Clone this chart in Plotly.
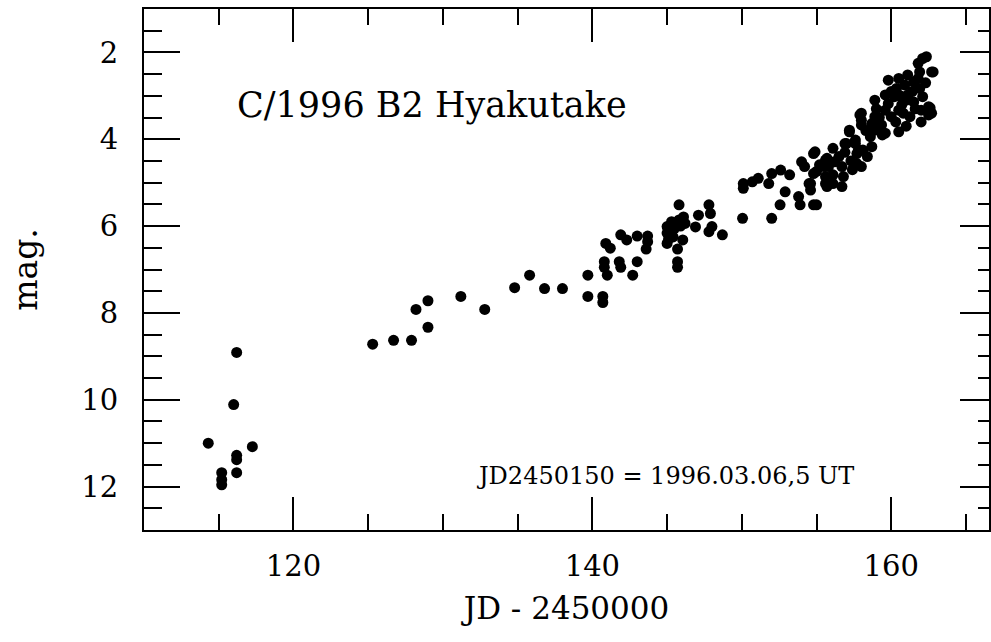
import plotly.graph_objects as go

# Julian date minus 2450000
jd = [
    114.3, 115.2, 115.2, 115.2, 116.2, 116.0, 116.2, 116.2, 116.2, 117.25,
    125.3, 126.7, 127.9, 128.2, 129.0, 129.0, 131.2, 132.8, 134.8, 135.8,
    136.8, 138.0, 139.7, 139.7, 140.7, 140.7, 140.9, 141.2, 140.8, 140.8,
    141.0, 141.8, 141.9, 141.9, 142.3, 143.0, 143.0, 142.7, 143.7, 143.7,
    143.6, 145.0, 145.0, 145.0, 145.3, 145.8, 145.8, 146.1, 146.2, 145.7,
    146.05, 145.7, 145.7, 146.9, 147.1, 147.8, 147.9, 147.8, 148.0, 148.7,
    145.2, 145.5, 145.6, 145.9, 145.4, 145.1,
    150.05, 152.0, 150.1, 150.1, 150.7, 151.1, 151.8, 152.0, 152.6, 153.2,
    152.9, 152.56, 153.8, 153.9, 154.8, 155.0, 154.0, 154.2, 154.6, 154.6,
    154.9, 155.0, 155.2, 155.6, 155.6, 155.7, 155.8, 156.1, 156.2, 156.1,
    156.5, 156.7, 156.7, 156.8, 156.9, 157.2, 157.6, 157.7, 157.7, 157.9,
    158.0, 158.0, 158.1, 154.8, 154.8, 154.5, 155.5, 155.6, 156.1, 155.7,
    157.0, 157.8, 157.6, 158.6, 158.7, 158.9, 157.2, 159.6, 160.5, 159.35,
    158.7, 158.0, 158.0, 158.9, 160.0, 161.25, 162.5, 159.6, 160.5, 162.0,
    158.9, 159.8, 160.7, 161.5, 162.5, 159.6, 160.2, 161.1, 162.1, 159.8,
    161.5, 160.9, 160.35, 161.9, 161.1, 161.9, 162.7, 161.8, 162.1, 162.35,
    160.0, 160.6, 161.0, 161.4, 160.8, 161.6, 159.2, 159.0, 160.3, 161.0,
    161.8, 162.3, 160.5, 162.0, 159.4, 158.3, 158.4, 157.3, 156.9, 157.4,
    162.8, 162.6, 162.7,
]
# total visual magnitude
mag = [
    11.0, 11.68, 11.84, 11.96, 8.91, 10.11, 11.28, 11.38, 11.68, 11.08,
    8.72, 8.63, 8.63, 7.92, 7.72, 8.33, 7.62, 7.92, 7.42, 7.13,
    7.44, 7.44, 7.13, 7.62, 7.62, 7.76, 6.40, 6.51, 6.82, 6.95,
    7.13, 6.82, 6.95, 6.20, 6.32, 6.23, 6.82, 7.13, 6.23, 6.36,
    6.53, 6.01, 6.16, 6.40, 5.90, 5.51, 5.86, 5.79, 5.94, 6.53,
    6.32, 6.82, 6.95, 6.02, 5.75, 5.51, 5.71, 6.13, 6.01, 6.20,
    6.10, 6.05, 5.95, 6.00, 6.25, 6.30,
    5.82, 5.82, 5.02, 5.13, 4.98, 4.90, 5.02, 4.79, 4.71, 4.82,
    5.21, 5.51, 5.32, 5.51, 5.51, 5.51, 4.52, 4.63, 5.17, 5.02,
    4.29, 4.74, 4.59, 4.48, 4.86, 5.09, 4.63, 4.21, 4.52, 4.82,
    4.40, 4.63, 5.09, 4.86, 4.10, 3.83, 4.10, 4.33, 4.56, 3.44,
    3.67, 4.63, 4.25, 4.33, 4.79, 5.02, 4.63, 5.02, 5.02, 4.44,
    4.10, 4.25, 4.02, 3.94, 4.17, 3.79, 3.79, 3.86, 3.83, 3.67,
    3.64, 3.56, 3.40, 3.48, 3.48, 3.48, 3.44, 3.33, 3.33, 3.33,
    3.10, 3.18, 3.21, 3.14, 3.25, 2.98, 3.02, 2.98, 3.02, 2.64,
    2.68, 2.75, 2.83, 2.83, 2.52, 2.45, 2.45, 2.25, 2.14, 2.10,
    2.90, 3.00, 3.10, 2.90, 3.40, 3.30, 3.50, 3.30, 3.60, 3.70,
    2.60, 2.70, 2.60, 3.60, 3.90, 3.80, 4.40, 4.50, 4.30, 4.70,
    2.45, 3.28, 3.40,
]

x_range = [110, 166.54]
y_range = [13, 1]
x_tickvals = [120, 140, 160]
y_tickvals = [2, 4, 6, 8, 10, 12]

title_text = "C/1996 B2 Hyakutake"
note_text = "JD2450150 = 1996.03.06,5 UT"
x_title = "JD - 2450000"
y_title = "mag."

FONT = "DejaVu Serif"

fig = go.Figure()
fig.add_trace(go.Scatter(
    x=jd, y=mag, mode="markers",
    marker=dict(size=11, color="black"),
    showlegend=False, hoverinfo="x+y",
))
# same data on the right-hand axis so its ticks are drawn
fig.add_trace(go.Scatter(
    x=jd, y=mag, mode="markers", yaxis="y2",
    marker=dict(size=11, color="rgba(0,0,0,0)"),
    showlegend=False, hoverinfo="skip",
))

fig.update_layout(
    width=991, height=642,
    margin=dict(l=144, r=0, t=9, b=112),
    paper_bgcolor="white", plot_bgcolor="white",
    font=dict(family=FONT, color="black"),
    xaxis=dict(
        range=x_range, tickvals=x_tickvals, ticktext=[str(v) for v in x_tickvals],
        ticks="inside", ticklen=33, tickwidth=2, tickcolor="black",
        minor=dict(dtick=5, tick0=0, ticks="inside", ticklen=16, tickwidth=2, tickcolor="black"),
        showline=True, linewidth=2, linecolor="black", mirror="ticks",
        showgrid=False, zeroline=False, ticklabelstandoff=9,
        tickfont=dict(family=FONT, size=29, color="black"),
        title=dict(text=x_title, font=dict(family=FONT, size=31, color="black"), standoff=16),
    ),
    yaxis=dict(
        range=y_range, tickvals=y_tickvals, ticktext=[str(v) for v in y_tickvals],
        ticks="inside", ticklen=36, tickwidth=2, tickcolor="black",
        minor=dict(dtick=0.5, tick0=0, ticks="inside", ticklen=18, tickwidth=2, tickcolor="black"),
        showline=True, linewidth=2, linecolor="black", mirror=True,
        showgrid=False, zeroline=False, ticklabelstandoff=18,
        tickfont=dict(family=FONT, size=29, color="black"),
        title=dict(text=y_title, font=dict(family=FONT, size=33, color="black"), standoff=34),
    ),
    yaxis2=dict(
        range=y_range, overlaying="y", side="right", anchor="x",
        tickvals=y_tickvals, showticklabels=False,
        ticks="inside", ticklen=29, tickwidth=2, tickcolor="black",
        minor=dict(dtick=0.5, tick0=0, ticks="inside", ticklen=11, tickwidth=2, tickcolor="black"),
        showline=False, showgrid=False, zeroline=False,
    ),
    annotations=[
        dict(text=title_text, xref="paper", yref="paper", x=0.1074, y=0.816,
             xanchor="left", yanchor="middle", showarrow=False,
             font=dict(family=FONT, size=35, color="black")),
        dict(text=note_text, xref="paper", yref="paper", x=0.843, y=0.104,
             xanchor="right", yanchor="middle", showarrow=False,
             font=dict(family=FONT, size=24, color="black")),
    ],
)

fig.write_html("out.html")
